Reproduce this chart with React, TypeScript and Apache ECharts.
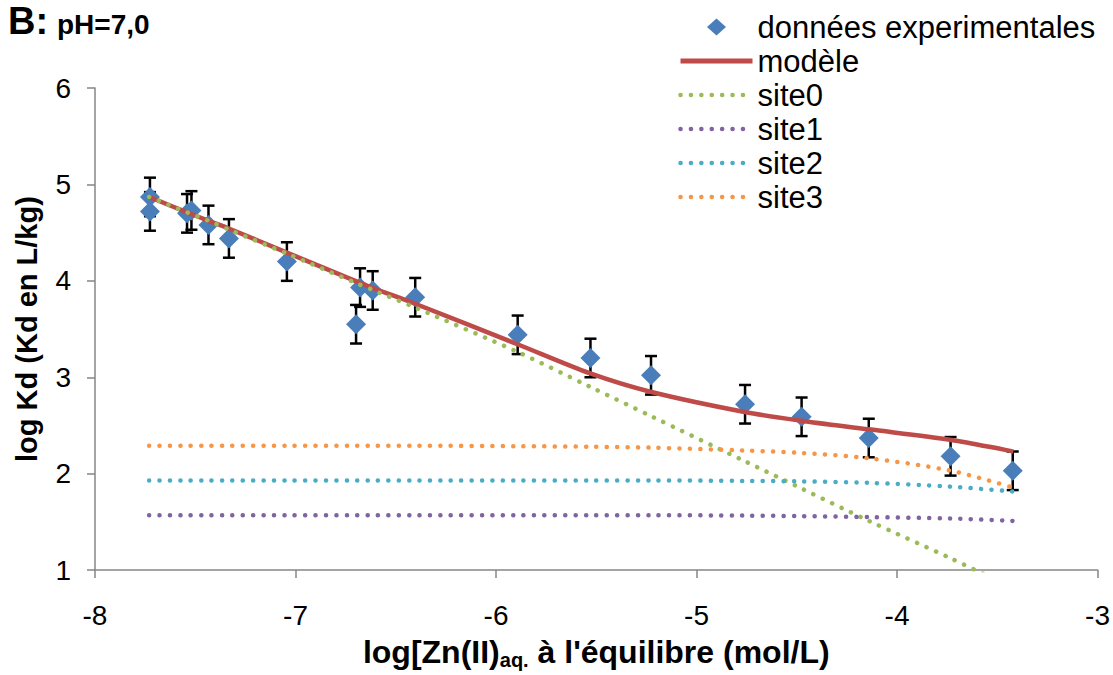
import React, { useEffect, useRef } from "react";
import * as echarts from "echarts";

// Experimental data
const expX = [-7.726, -7.726, -7.541, -7.519, -7.434, -7.332, -7.043, -6.698, -6.678, -6.615, -6.403, -5.892, -5.529, -5.227, -4.758, -4.476, -4.141, -3.733, -3.423];
const expY = [4.72, 4.87, 4.70, 4.73, 4.58, 4.44, 4.20, 3.55, 3.93, 3.90, 3.83, 3.44, 3.20, 3.02, 2.72, 2.59, 2.37, 2.18, 2.03];
const expErr = [0.2, 0.2, 0.2, 0.2, 0.2, 0.2, 0.2, 0.2, 0.2, 0.2, 0.2, 0.2, 0.2, 0.2, 0.2, 0.2, 0.2, 0.2, 0.2];

// Model curves
const curveX = [-7.73, -7.54, -7.43, -7.33, -7.04, -6.69, -6.62, -6.40, -5.89, -5.53, -5.23, -4.76, -4.48, -4.14, -3.73, -3.42];
const model = [4.87, 4.71, 4.62, 4.54, 4.29, 3.99, 3.93, 3.76, 3.34, 3.04, 2.85, 2.64, 2.55, 2.46, 2.35, 2.23];
const site0 = [4.87, 4.71, 4.62, 4.53, 4.28, 3.97, 3.91, 3.72, 3.26, 2.90, 2.60, 2.13, 1.85, 1.51, 1.12, 0.81];
const site1 = [1.57, 1.57, 1.57, 1.57, 1.57, 1.57, 1.57, 1.57, 1.57, 1.57, 1.57, 1.565, 1.56, 1.55, 1.535, 1.51];
const site2 = [1.93, 1.93, 1.93, 1.93, 1.93, 1.93, 1.93, 1.93, 1.93, 1.93, 1.93, 1.925, 1.92, 1.905, 1.865, 1.815];
const site3 = [2.29, 2.29, 2.29, 2.29, 2.29, 2.29, 2.29, 2.29, 2.285, 2.28, 2.27, 2.24, 2.215, 2.16, 2.03, 1.855];

const xTicks = [-8, -7, -6, -5, -4, -3];
const yTicks = [1, 2, 3, 4, 5, 6];

const FONT = "'Liberation Sans', Arial, sans-serif";
const COLORS = { data: "#4A7EBB", model: "#BE4B48", site0: "#9BBB59", site1: "#8064A2", site2: "#4BACC6", site3: "#F79646" };

export default function App() {
  const ref = useRef<HTMLDivElement>(null);

  useEffect(() => {
    if (!ref.current) return;
    const chart = echarts.init(ref.current, null, { renderer: "svg" });
    const pairs = (xs: number[], ys: number[]) => xs.map((x, i) => [x, ys[i]]);
    const dotted = (color: string) => ({
      color,
      width: 4.5,
      type: [0.1, 10.3] as any,
      cap: "round" as any,
    });
    const styles: Record<string, any> = {
      "modèle": { color: COLORS.model, width: 4.5 },
      site0: dotted(COLORS.site0),
      site1: dotted(COLORS.site1),
      site2: dotted(COLORS.site2),
      site3: dotted(COLORS.site3),
    };
    const lineSeries = (name: string, ys: number[]) => ({
      name,
      type: "line",
      data: pairs(curveX, ys),
      symbol: "none",
      smooth: 0.3,
      lineStyle: styles[name],
      itemStyle: { color: styles[name].color },
      z: 3,
    });
    const legendLine = (name: string) => ({
      name,
      itemStyle: { opacity: 0 },
      lineStyle: { ...styles[name], width: name === "modèle" ? 5 : 4.5 },
    });

    chart.setOption({
      animation: false,
      textStyle: { fontFamily: FONT },
      grid: { left: 95, right: 13, top: 88, bottom: 94, containLabel: false },
      graphic: [
        {
          type: "text",
          left: 8,
          top: 2,
          style: { text: "B:", font: `bold 38px ${FONT}`, fill: "#000" },
        },
        {
          type: "text",
          left: 57,
          top: 10,
          style: { text: "pH=7,0", font: `bold 28px ${FONT}`, fill: "#000" },
        },
      ],
      legend: {
        orient: "vertical",
        left: 673,
        top: 5,
        itemWidth: 72,
        itemHeight: 18,
        itemGap: 0,
        symbolKeepAspect: true,
        data: [
          {
            name: "données experimentales",
            icon: "path://M0,0M72,18M26.5,9L36,0.5L45.5,9L36,17.5Z",
            itemStyle: { color: COLORS.data },
          },
          legendLine("modèle"),
          legendLine("site0"),
          legendLine("site1"),
          legendLine("site2"),
          legendLine("site3"),
        ],
        textStyle: { fontFamily: FONT, fontSize: 31, color: "#000", lineHeight: 34 },
      },
      xAxis: {
        type: "value",
        min: xTicks[0],
        max: xTicks[xTicks.length - 1],
        interval: 1,
        splitLine: { show: false },
        axisLine: { lineStyle: { color: "#868686", width: 1.5 } },
        axisTick: { show: true, length: 8, lineStyle: { color: "#868686", width: 1.5 } },
        axisLabel: { fontSize: 28, color: "#000", margin: 31, fontFamily: FONT },
        name: "{a|log[Zn(II)}{s|aq.}{a| à l'équilibre (mol/L)}",
        nameLocation: "middle",
        nameGap: 50,
        nameTextStyle: {
          rich: {
            a: { fontSize: 32, fontWeight: "bold", fontFamily: FONT, color: "#000", lineHeight: 38 },
            s: { fontSize: 20, fontWeight: "bold", fontFamily: FONT, color: "#000", lineHeight: 38, padding: [16, 0, 0, 0] },
          },
        },
      },
      yAxis: {
        type: "value",
        min: yTicks[0],
        max: yTicks[yTicks.length - 1],
        interval: 1,
        splitLine: { show: false },
        axisLine: { show: true, lineStyle: { color: "#868686", width: 1.5 } },
        axisTick: { show: true, length: 8, lineStyle: { color: "#868686", width: 1.5 } },
        axisLabel: { fontSize: 28, color: "#000", margin: 24, fontFamily: FONT },
        name: "log Kd (Kd en L/kg)",
        nameLocation: "middle",
        nameRotate: 90,
        nameGap: 54,
        nameTextStyle: { fontSize: 29, fontWeight: "bold", color: "#000", fontFamily: FONT },
      },
      series: [
        {
          type: "custom",
          data: expX.map((x, i) => [x, expY[i] - expErr[i], expY[i] + expErr[i]]),
          encode: { x: 0, y: [1, 2] },
          z: 1,
          renderItem: (params: any, api: any) => {
            const x = api.value(0);
            const lo = api.coord([x, api.value(1)]);
            const hi = api.coord([x, api.value(2)]);
            const w = 6;
            const style = { stroke: "#000", lineWidth: 2.5 };
            return {
              type: "group",
              children: [
                { type: "line", shape: { x1: lo[0], y1: lo[1], x2: hi[0], y2: hi[1] }, style },
                { type: "line", shape: { x1: lo[0] - w, y1: lo[1], x2: lo[0] + w, y2: lo[1] }, style },
                { type: "line", shape: { x1: hi[0] - w, y1: hi[1], x2: hi[0] + w, y2: hi[1] }, style },
              ],
            };
          },
        },
        {
          name: "données experimentales",
          type: "scatter",
          data: pairs(expX, expY),
          symbol: "diamond",
          symbolSize: 20,
          itemStyle: { color: COLORS.data, opacity: 1 },
          z: 2,
        },
        lineSeries("modèle", model),
        lineSeries("site0", site0),
        lineSeries("site1", site1),
        lineSeries("site2", site2),
        lineSeries("site3", site3),
      ],
    });
    return () => chart.dispose();
  }, []);

  return <div ref={ref} style={{ width: 1113, height: 675, position: "absolute", left: 0, top: 0 }} />;
}
